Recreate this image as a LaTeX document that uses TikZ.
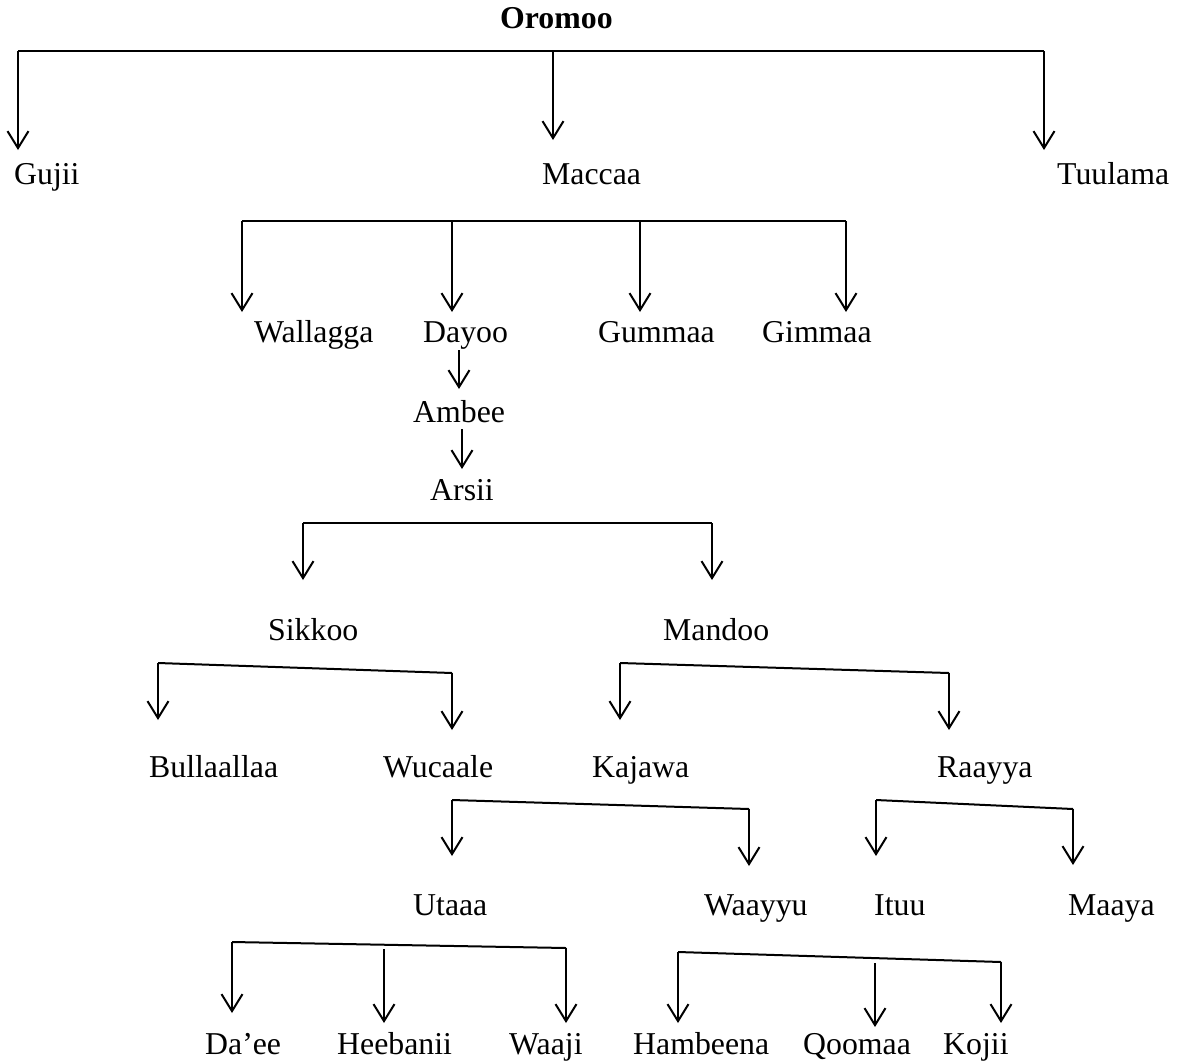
\documentclass[tikz,border=0pt]{standalone}
\usepackage{fontspec}
\setmainfont{Liberation Serif}
\usetikzlibrary{arrows.meta}
\begin{document}
\begin{tikzpicture}[x=1pt,y=-1pt,
  lbl/.style={anchor=base west,inner sep=0pt,font=\fontsize{31.8}{38}\selectfont},
  ln/.style={line width=2pt,line join=miter},
  arr/.style={ln,-{Straight Barb[length=17pt,width=21pt]}}]
\useasboundingbox (0,0) rectangle (1181,1061);
% labels
\node[lbl,font=\fontsize{31.8}{38}\selectfont\bfseries] (oromoo) at (500,28) {Oromoo};
\node[lbl] (gujii) at (14,184) {Gujii};
\node[lbl] (maccaa) at (542,184) {Maccaa};
\node[lbl] (tuulama) at (1057,184) {Tuulama};
\node[lbl] (wallagga) at (254,342) {Wallagga};
\node[lbl] (dayoo) at (423,342) {Dayoo};
\node[lbl] (gummaa) at (598,342) {Gummaa};
\node[lbl] (gimmaa) at (762,342) {Gimmaa};
\node[lbl] (ambee) at (413,422) {Ambee};
\node[lbl] (arsii) at (430,500) {Arsii};
\node[lbl] (sikkoo) at (268,640) {Sikkoo};
\node[lbl] (mandoo) at (663,640) {Mandoo};
\node[lbl] (bullaallaa) at (149,777) {Bullaallaa};
\node[lbl] (wucaale) at (383,777) {Wucaale};
\node[lbl] (kajawa) at (592,777) {Kajawa};
\node[lbl] (raayya) at (937,777) {Raayya};
\node[lbl] (utaaa) at (413,915) {Utaaa};
\node[lbl] (waayyu) at (704,915) {Waayyu};
\node[lbl] (ituu) at (874,915) {Ituu};
\node[lbl] (maaya) at (1068,915) {Maaya};
\node[lbl] (daee) at (205,1054) {Da’ee};
\node[lbl] (heebanii) at (337,1054) {Heebanii};
\node[lbl] (waaji) at (509,1054) {Waaji};
\node[lbl] (hambeena) at (633,1054) {Hambeena};
\node[lbl] (qoomaa) at (803,1054) {Qoomaa};
\node[lbl] (kojii) at (943,1054) {Kojii};
% Oromoo bracket
\coordinate (o1) at (18,51); \coordinate (o2) at (553,51); \coordinate (o3) at (1044,51);
\coordinate (to1) at (18,150); \coordinate (to2) at (553,140); \coordinate (to3) at (1044,150);
\draw[ln] (o1) -- (o3);
\draw[arr] (o1) -- (to1);
\draw[arr] (o2) -- (to2);
\draw[arr] (o3) -- (to3);
% Maccaa bracket
\coordinate (m1) at (242,221); \coordinate (m2) at (452,221); \coordinate (m3) at (640,221); \coordinate (m4) at (846,221);
\coordinate (tm1) at (242,312); \coordinate (tm2) at (452,312); \coordinate (tm3) at (640,312); \coordinate (tm4) at (846,312);
\draw[ln] (m1) -- (m4);
\draw[arr] (m1) -- (tm1);
\draw[arr] (m2) -- (tm2);
\draw[arr] (m3) -- (tm3);
\draw[arr] (m4) -- (tm4);
% Dayoo -> Ambee -> Arsii
\coordinate (d1) at (459,350); \coordinate (td1) at (459,389);
\coordinate (a1) at (462,429); \coordinate (ta1) at (462,469);
\draw[arr] (d1) -- (td1);
\draw[arr] (a1) -- (ta1);
% Arsii bracket
\coordinate (r1) at (303,523); \coordinate (r2) at (712,523);
\coordinate (tr1) at (303,580); \coordinate (tr2) at (712,580);
\draw[ln] (r1) -- (r2);
\draw[arr] (r1) -- (tr1);
\draw[arr] (r2) -- (tr2);
% Sikkoo bracket
\coordinate (s1) at (158,663); \coordinate (s2) at (452,673);
\coordinate (ts1) at (158,720); \coordinate (ts2) at (452,730);
\draw[ln] (s1) -- (s2);
\draw[arr] (s1) -- (ts1);
\draw[arr] (s2) -- (ts2);
% Mandoo bracket
\coordinate (n1) at (620,663); \coordinate (n2) at (949,673);
\coordinate (tn1) at (620,720); \coordinate (tn2) at (949,730);
\draw[ln] (n1) -- (n2);
\draw[arr] (n1) -- (tn1);
\draw[arr] (n2) -- (tn2);
% Wucaale bracket
\coordinate (w1) at (452,800); \coordinate (w2) at (749,809);
\coordinate (tw1) at (452,856); \coordinate (tw2) at (749,866);
\draw[ln] (w1) -- (w2);
\draw[arr] (w1) -- (tw1);
\draw[arr] (w2) -- (tw2);
% Raayya bracket
\coordinate (y1) at (876,800); \coordinate (y2) at (1073,809);
\coordinate (ty1) at (876,856); \coordinate (ty2) at (1073,865);
\draw[ln] (y1) -- (y2);
\draw[arr] (y1) -- (ty1);
\draw[arr] (y2) -- (ty2);
% Utaaa bracket
\coordinate (u1) at (232,942); \coordinate (u2) at (384,949); \coordinate (u3) at (566,948);
\coordinate (tu1) at (232,1013); \coordinate (tu2) at (384,1023); \coordinate (tu3) at (566,1023);
\draw[ln] (u1) -- (u3);
\draw[arr] (u1) -- (tu1);
\draw[arr] (u2) -- (tu2);
\draw[arr] (u3) -- (tu3);
% Waayyu bracket
\coordinate (v1) at (678,952); \coordinate (v2) at (875,963); \coordinate (v3) at (1001,962);
\coordinate (tv1) at (678,1023); \coordinate (tv2) at (875,1027); \coordinate (tv3) at (1001,1023);
\draw[ln] (v1) -- (v3);
\draw[arr] (v1) -- (tv1);
\draw[arr] (v2) -- (tv2);
\draw[arr] (v3) -- (tv3);
\end{tikzpicture}
\end{document}
